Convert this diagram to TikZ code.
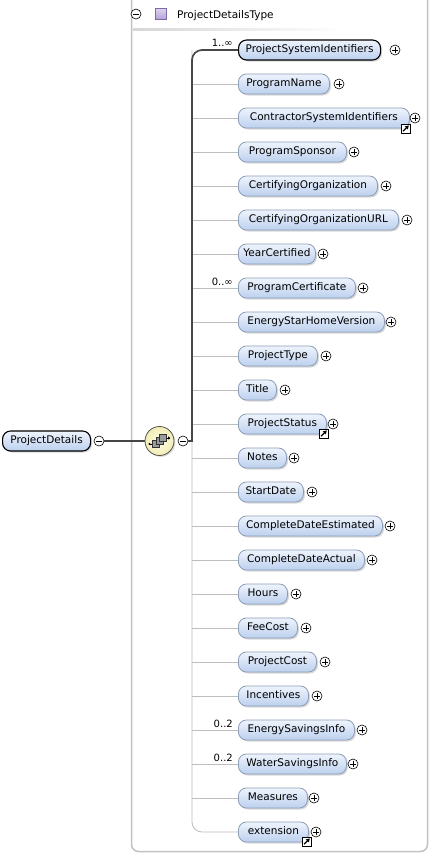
\documentclass[tikz,border=0pt]{standalone}
\usepackage{fontspec}
\setmainfont{DejaVu Sans}
\usetikzlibrary{shadows,arrows.meta}
\definecolor{elbord}{HTML}{8C9DB8}
\definecolor{eltop}{HTML}{EEF4FD}
\definecolor{elbot}{HTML}{BCD0EE}
\definecolor{boxgray}{HTML}{C2C2C2}
\definecolor{linegray}{HTML}{BDBDBD}
\definecolor{linedark}{HTML}{474747}
\definecolor{seqin}{HTML}{FFFFE8}
\definecolor{seqout}{HTML}{F1EBB4}
\definecolor{seqbord}{HTML}{55554A}
\definecolor{purtop}{HTML}{DCD2F0}
\definecolor{purbot}{HTML}{B3A2D6}
\definecolor{purbord}{HTML}{7E6AA8}
\definecolor{sqfill}{HTML}{9A9A9A}
\newcommand\elfont{\fontsize{10.5}{12}\selectfont}
\newcommand\mulfont{\fontsize{10}{12}\selectfont}
\tikzset{
  elem/.style={rectangle, rounded corners=8pt, draw=elbord, line width=0.8pt,
    top color=eltop, bottom color=elbot, minimum height=20pt, inner xsep=3pt,
    inner ysep=0pt, text height=7.8pt, text depth=2.2pt, font=\elfont,
    drop shadow={shadow xshift=1.5pt, shadow yshift=-1.5pt, opacity=0.3}},
  reqelem/.style={elem, draw=black, line width=1.1pt},
  pmcirc/.style={circle, draw=black, fill=white, line width=0.6pt, minimum size=10pt, inner sep=0pt},
  minusc/.style={pmcirc, path picture={\draw[line width=0.7pt]
      ([xshift=-2.6pt]path picture bounding box.center) -- ([xshift=2.6pt]path picture bounding box.center);}},
  plusc/.style={pmcirc, path picture={\draw[line width=0.7pt]
      ([xshift=-2.6pt]path picture bounding box.center) -- ([xshift=2.6pt]path picture bounding box.center)
      ([yshift=-2.6pt]path picture bounding box.center) -- ([yshift=2.6pt]path picture bounding box.center);}},
  icn/.style={rectangle, draw=black, fill=white, line width=0.8pt, minimum size=9pt, inner sep=0pt,
    path picture={\draw[line width=1.2pt, -{Triangle[length=3.6pt,width=4pt]}]
      ([xshift=-2.8pt,yshift=-2.8pt]path picture bounding box.center) -- ([xshift=3pt,yshift=3pt]path picture bounding box.center);}},
  mult/.style={font=\mulfont, inner sep=0pt},
  thinline/.style={draw=linegray, line width=0.8pt},
  darkline/.style={draw=linedark, line width=1.7pt},
}
\begin{document}
\begin{tikzpicture}[x=1pt,y=-1pt]
\useasboundingbox (0,0) rectangle (430,855);
\fill[white] (0,0) rectangle (430,855);
% outer frame
\draw[boxgray, line width=1.5pt, rounded corners=7pt] (131.5,-12) -- (131.5,851.5) -- (427.5,851.5) -- (427.5,-12);
% header
\node[minusc] (hminus) at (136,14) {};
\node[rectangle, draw=purbord, line width=0.6pt, top color=purtop, bottom color=purbot,
  minimum size=10.5pt, inner sep=0pt] (hsq) at (161,14) {};
\node[anchor=base west, font=\elfont, inner sep=0pt] (htitle) at (177,18.5) {ProjectDetailsType};
\fill[left color=black!16, right color=white] (133,28.2) rectangle (345,30.6);

% root
\node[reqelem, minimum width=88pt, anchor=west] (root) at (2,441) {ProjectDetails};
\node[minusc] (rminus) at (99,441) {};
% compositor
\node[circle, minimum size=29pt, draw=seqbord, line width=0.8pt, inner color=seqin, outer color=seqout,
  drop shadow={shadow xshift=1.3pt, shadow yshift=-1.3pt, opacity=0.3}] (seq) at (159.5,441) {};
\begin{scope}[shift={(seq.center)}]
  \draw[line width=0.7pt, black] (-10,3) -- (-6,3);
  \fill[black] (-10,3) circle (1.1);
  \draw[line width=0.7pt, black] (6,-3) -- (10,-3);
  \fill[black] (10.8,-3) -- (8.6,-4.6) -- (8.6,-1.4) -- cycle;
  \filldraw[fill=sqfill, draw=black!80, line width=0.5pt] (-6.8,-0.3) rectangle (-0.2,6.3);
  \filldraw[fill=sqfill, draw=black!80, line width=0.5pt] (-3.3,-3.3) rectangle (3.3,3.3);
  \filldraw[fill=sqfill, draw=black!80, line width=0.5pt] (0.2,-6.3) rectangle (6.8,0.3);
\end{scope}
\node[minusc] (cminus) at (183,441) {};
\draw[darkline] (rminus.east) -- (seq.west);

% elements
\node[reqelem, minimum width=142pt, anchor=west] (e1) at (238,50) {ProjectSystemIdentifiers};
\node[plusc] (p1) at (395,50) {};
\foreach \i/\lab/\r/\p in {
  2/ProgramName/329/339,
  3/ContractorSystemIdentifiers/409/415,
  4/ProgramSponsor/346/354,
  5/CertifyingOrganization/377/386,
  6/CertifyingOrganizationURL/398/407,
  7/YearCertified/315/323,
  8/ProgramCertificate/355/363,
  9/EnergyStarHomeVersion/384/391,
  10/ProjectType/317/326,
  11/Title/276/285,
  12/ProjectStatus/326/333,
  13/Notes/286/294,
  14/StartDate/303/312,
  15/CompleteDateEstimated/382/390,
  16/CompleteDateActual/364/372,
  17/Hours/287/296,
  18/FeeCost/297/306,
  19/ProjectCost/316/325,
  20/Incentives/308/317,
  21/EnergySavingsInfo/354/362,
  22/WaterSavingsInfo/346/353,
  23/Measures/307/314,
  24/extension/308/316}{
  \pgfmathsetmacro\yy{50+(\i-1)*34}
  \pgfmathsetmacro\ww{\r-238}
  \node[elem, minimum width=\ww pt, anchor=west] (e\i) at (238,\yy) {\lab};
  \node[plusc] (p\i) at (\p,\yy) {};
  \coordinate (t\i) at (192,\yy);
}
% shortcut icons
\node[icn] (i3) at ([xshift=-4pt,yshift=0pt]e3.south east) {};
\node[icn] (i12) at ([xshift=-3pt,yshift=1pt]e12.south east) {};
\node[icn] (i24) at ([xshift=-2pt,yshift=1pt]e24.south east) {};

% connectors
\coordinate (ttop) at (192,50);
\coordinate (tj) at (192,441);
\coordinate (tbot) at (192,832);
\foreach \i in {2,...,23}{
  \draw[thinline] (t\i) -- (e\i.west);
}
\draw[thinline, rounded corners=10pt] (ttop) -- (tbot) -- (e24.west);
\draw[darkline] (cminus.east) -- (tj);
\draw[darkline, rounded corners=10pt] ([yshift=-0.85pt]tj) -- (ttop) -- (e1.west);

% multiplicities
\node[mult, anchor=base east] (m1) at (233,46.5) {1..∞};
\node[mult, anchor=base east] (m8) at (233,285.5) {0..∞};
\node[mult, anchor=base east] (m21) at (233,727) {0..2};
\node[mult, anchor=base east] (m22) at (233,761) {0..2};
\end{tikzpicture}
\end{document}
